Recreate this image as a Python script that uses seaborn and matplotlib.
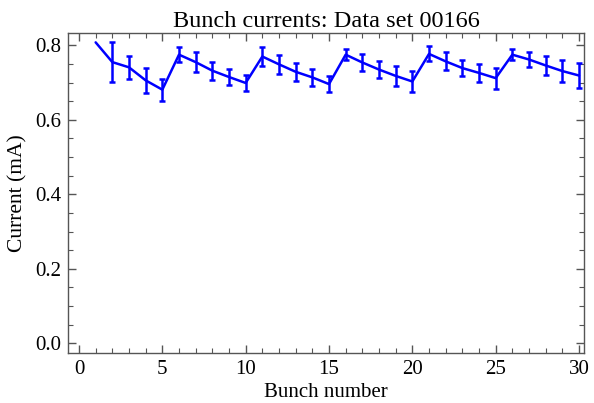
import numpy as np
import pandas as pd
import matplotlib
matplotlib.use("Agg")
import matplotlib.pyplot as plt
import seaborn as sns
from matplotlib.ticker import MultipleLocator

# bunch index and measured current (mA) with its error
bunch = list(range(1, 31))
current = [0.808, 0.755, 0.741, 0.706, 0.681, 0.775, 0.755, 0.732, 0.715, 0.699,
           0.770, 0.749, 0.729, 0.714, 0.696, 0.775, 0.754, 0.735, 0.718, 0.703,
           0.777, 0.757, 0.739, 0.726, 0.712, 0.775, 0.762, 0.746, 0.731, 0.719]
err = [0.0, 0.054, 0.031, 0.033, 0.030, 0.020, 0.027, 0.024, 0.021, 0.022,
       0.026, 0.025, 0.024, 0.022, 0.021, 0.015, 0.022, 0.022, 0.027, 0.028,
       0.020, 0.024, 0.022, 0.025, 0.028, 0.014, 0.021, 0.025, 0.029, 0.034]

df = pd.DataFrame({"bunch": bunch, "current": current, "err": err})

sns.set_style("ticks")
plt.rcParams["font.family"] = ["Liberation Serif", "DejaVu Serif"]
plt.rcParams["text.color"] = "black"
plt.rcParams["axes.labelcolor"] = "black"

fig = plt.figure(figsize=(5.94, 4.03), dpi=100)
ax = fig.add_axes([0.1153, 0.124, 0.9832 - 0.1153, 0.9189 - 0.124])

sns.lineplot(data=df, x="bunch", y="current", color="#0000ff", linewidth=1.8, ax=ax)
eb = df[df["err"] > 0]
ax.errorbar(eb["bunch"], eb["current"], yerr=eb["err"], fmt="none",
            ecolor="#0000ff", elinewidth=1.8, capsize=2.2, capthick=1.8)

ax.set_xlim(-0.63, 30.3)
ax.set_ylim(-0.026, 0.834)
ax.xaxis.set_major_locator(MultipleLocator(5))
ax.xaxis.set_minor_locator(MultipleLocator(1))
ax.yaxis.set_major_locator(MultipleLocator(0.2))
ax.yaxis.set_minor_locator(MultipleLocator(0.05))
ax.yaxis.set_major_formatter(matplotlib.ticker.FormatStrFormatter("%.1f"))

for s in ax.spines.values():
    s.set_color("#555555")
    s.set_linewidth(1.0)
ax.tick_params(which="both", direction="in", top=True, right=True, color="#555555",
               labelsize=15, labelcolor="black")
ax.tick_params(which="major", length=6, width=1.0, pad=5)
ax.tick_params(which="minor", length=3.5, width=0.8)

ax.set_title("Bunch currents: Data set 00166", fontsize=17.5, pad=4, color="black")
ax.set_xlabel("Bunch number", fontsize=15, labelpad=3)
ax.set_ylabel("Current (mA)", fontsize=15.5, labelpad=6)

fig.savefig("out.png", dpi=100)
